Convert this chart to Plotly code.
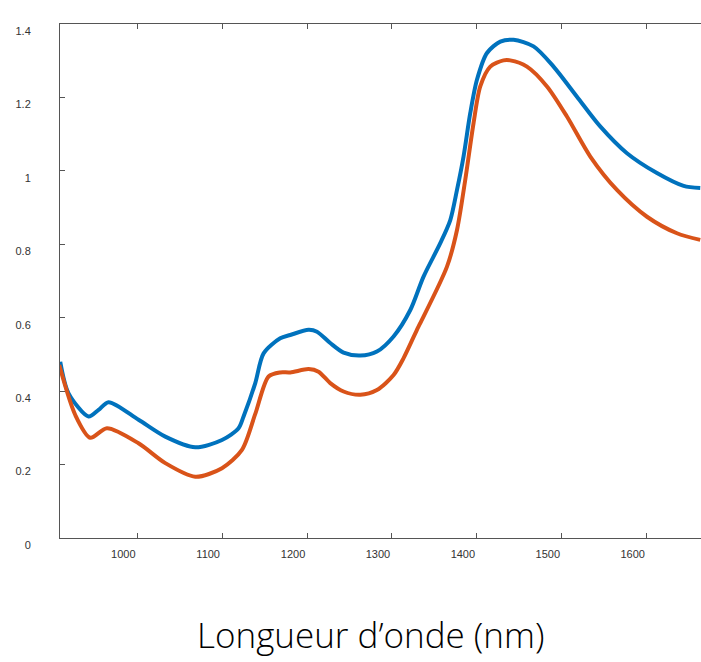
import plotly.graph_objects as go

# Wavelength (nm) and absorbance values
blue_x = [909.3, 919.1, 942.6, 954.4, 966.2, 1001.5, 1033, 1068.3, 1099.8, 1119.3, 1125.2, 1139,
          1148.8, 1168.4, 1180.2, 1201.8, 1211.7, 1227.3, 1243, 1262.7, 1282.3, 1301.9, 1321.6,
          1337.2, 1356.9, 1368.7, 1376.6, 1384.3, 1392.2, 1400.1, 1411.9, 1427.6, 1443.2, 1466.8,
          1490.3, 1517.9, 1545.3, 1576.8, 1612.1, 1643.5, 1663.1]
blue_y = [0.480, 0.394, 0.331, 0.349, 0.370, 0.322, 0.276, 0.247, 0.267, 0.299, 0.331, 0.422,
          0.503, 0.544, 0.553, 0.567, 0.562, 0.531, 0.505, 0.497, 0.508, 0.549, 0.621,
          0.712, 0.803, 0.866, 0.948, 1.039, 1.157, 1.248, 1.321, 1.352, 1.357, 1.339,
          1.284, 1.202, 1.121, 1.048, 0.994, 0.959, 0.953]

orange_x = [908.1, 927, 944.6, 964.3, 1001.5, 1033, 1068.3, 1099.8, 1123.3, 1139, 1154.7, 1168.4,
            1180.2, 1201.8, 1213.5, 1227.3, 1243, 1262.7, 1282.3, 1301.9, 1313.7, 1329.4, 1333.3,
            1364.8, 1376.6, 1386.3, 1396.1, 1404, 1415.8, 1431.4, 1439.3, 1459, 1482.6, 1506.1,
            1533.6, 1565, 1600.4, 1635.7, 1663.1]
orange_y = [0.471, 0.335, 0.273, 0.299, 0.258, 0.204, 0.167, 0.190, 0.240, 0.338, 0.440, 0.451,
            0.451, 0.460, 0.453, 0.422, 0.399, 0.390, 0.403, 0.444, 0.490, 0.567, 0.585,
            0.739, 0.839, 0.975, 1.130, 1.230, 1.284, 1.301, 1.301, 1.284, 1.230, 1.148,
            1.039, 0.948, 0.875, 0.830, 0.812]

x_ticks = [1000, 1100, 1200, 1300, 1400, 1500, 1600]
y_ticks = [0, 0.2, 0.4, 0.6, 0.8, 1, 1.2, 1.4]
y_tick_labels = ["0", "0.2", "0.4", "0.6", "0.8", "1", "1.2", "1.4"]
x_title = "Longueur d’onde (nm)"

fig = go.Figure()
fig.add_trace(go.Scatter(x=blue_x, y=blue_y, mode="lines",
                         line=dict(color="#0072BD", width=4, shape="spline", smoothing=0.8),
                         showlegend=False, hoverinfo="skip"))
fig.add_trace(go.Scatter(x=orange_x, y=orange_y, mode="lines",
                         line=dict(color="#D95319", width=4, shape="spline", smoothing=0.8),
                         showlegend=False, hoverinfo="skip"))

axis_common = dict(showgrid=False, zeroline=False, showline=True, linecolor="#555555",
                   linewidth=1, ticks="inside", ticklen=5, tickcolor="#555555",
                   tickfont=dict(family="Liberation Sans, Arial", size=11, color="#333333"))

fig.update_xaxes(range=[909, 1664], tickvals=x_ticks, mirror="ticks",
                 ticklabelshift=-14, ticklabelstandoff=6, **axis_common)
fig.update_yaxes(range=[0, 1.4], tickvals=y_ticks, ticktext=y_tick_labels, mirror=False,
                 ticklabelshift=7, ticklabelstandoff=26, **axis_common)

fig.add_annotation(text=x_title, xref="paper", yref="paper", x=(370 - 60) / 641,
                   y=(538 - 634) / 514, xanchor="center", yanchor="middle", showarrow=False,
                   font=dict(family="Open Sans", size=35, color="#000000", weight=300))

fig.update_layout(width=701, height=662, margin=dict(l=60, r=0, t=24, b=124),
                  plot_bgcolor="white", paper_bgcolor="white")

fig.write_html("out.html", config={"displayModeBar": False},
               post_script="document.body.style.margin='0';document.body.style.overflow='hidden';")
